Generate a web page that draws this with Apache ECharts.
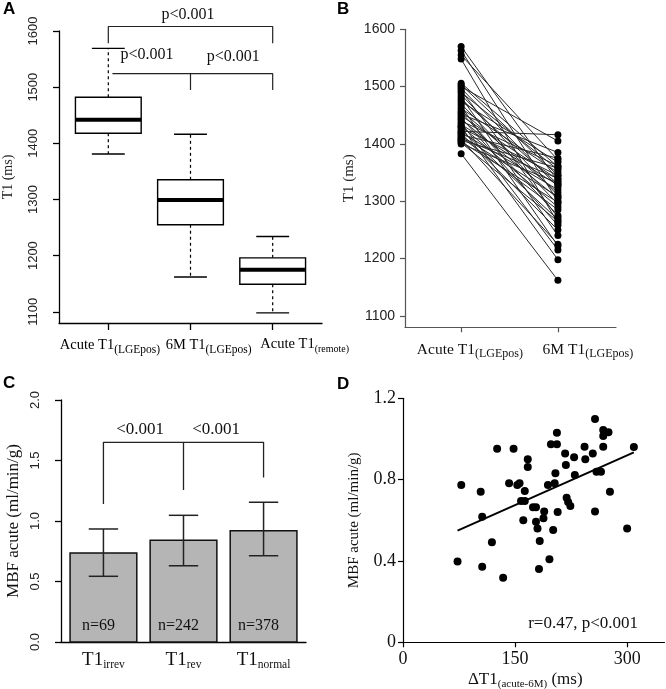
<!DOCTYPE html>
<html><head><meta charset="utf-8">
<script src="https://cdn.jsdelivr.net/npm/echarts@6/dist/echarts.min.js"></script>
<style>html,body{margin:0;padding:0;background:#fff}#c{width:666px;height:689px}</style>
</head><body><div id="c"></div>
<script>
// ---------- Panel A: box plots ----------
const boxLabels = [['Acute T1', '(LGEpos)'], ['6M T1', '(LGEpos)'], ['Acute T1', '(remote)']];
const boxPositions = [1, 2, 3];
const boxLow = [1381, 1162, 1098];
const boxQ1 = [1418, 1255, 1149];
const boxMedian = [1442, 1299, 1175];
const boxQ3 = [1482, 1335, 1196];
const boxHigh = [1569, 1416, 1234];
const t1Ticks = [1100, 1200, 1300, 1400, 1500, 1600];
const pText = 'p<0.001';

// ---------- Panel B: paired values ----------
const pairedLabels = [['Acute T1', '(LGEpos)'], ['6M T1', '(LGEpos)']];
const pairedAcute = [1570, 1563, 1555, 1548, 1506, 1503, 1500, 1497, 1493, 1490, 1486, 1482, 1478, 1474, 1470, 1466, 1462, 1458, 1455, 1452, 1449, 1446, 1443, 1440, 1437, 1434, 1431, 1428, 1425, 1422, 1420, 1418, 1416, 1414, 1412, 1410, 1408, 1406, 1404, 1402, 1400, 1430, 1383];
const pairedSixMonth = [1335, 1300, 1372, 1262, 1360, 1345, 1405, 1325, 1272, 1355, 1310, 1240, 1330, 1368, 1295, 1222, 1350, 1315, 1275, 1385, 1338, 1258, 1305, 1362, 1215, 1328, 1290, 1345, 1268, 1416, 1320, 1250, 1375, 1308, 1285, 1340, 1225, 1358, 1298, 1265, 1332, 1198, 1162];

// ---------- Panel C: bars ----------
const barLabels = [['T1', 'irrev'], ['T1', 'rev'], ['T1', 'normal']];
const barPositions = [0.7, 1.9, 3.1];
const barMeans = [0.735, 0.840, 0.920];
const barLower = [0.543, 0.630, 0.713];
const barUpper = [0.934, 1.047, 1.155];
const barCounts = ['n=69', 'n=242', 'n=378'];
const mbfBarTicks = [0, 0.5, 1.0, 1.5, 2.0];
const barPText = '<0.001';

// ---------- Panel D: scatter ----------
const deltaT1 = [73, 78, 104, 106, 106, 119, 126, 134, 142, 148, 153, 156, 163, 158, 163, 161, 167, 167, 174, 178, 178, 180, 183, 182, 189, 188, 196, 194, 198, 201, 203, 204, 206, 206, 207, 217, 218, 219, 221, 224, 229, 230, 243, 244, 254, 257, 257, 259, 265, 268, 268, 268, 275, 277, 300, 309];
const mbfAcute = [0.397, 0.774, 0.741, 0.618, 0.372, 0.492, 0.952, 0.318, 0.782, 0.952, 0.774, 0.782, 0.744, 0.695, 0.695, 0.600, 0.900, 0.862, 0.664, 0.664, 0.593, 0.560, 0.498, 0.361, 0.643, 0.610, 0.408, 0.774, 0.974, 0.552, 0.782, 0.831, 1.031, 0.974, 0.641, 0.929, 0.872, 0.711, 0.690, 0.670, 0.910, 0.823, 0.962, 0.900, 0.929, 1.098, 0.643, 0.839, 0.839, 0.962, 1.044, 1.015, 1.033, 0.741, 0.560, 0.960];
const fitX = [73, 309];
const fitY = [0.549, 0.934];
const deltaTicks = [0, 150, 300];
const mbfTicks = [0, 0.4, 0.8, 1.2];
const corrText = 'r=0.47, p<0.001';

const SERIF = 'Liberation Serif';
const SANS = 'Liberation Sans';
const INK = '#111';

function richSub(main, sub, drop, small) {
  return {
    m: { fontFamily: SERIF, fontSize: main, color: INK },
    s: { fontFamily: SERIF, fontSize: sub, color: INK, padding: [drop, 0, 0, 0] },
    t: { fontFamily: SERIF, fontSize: small || sub, color: INK, padding: [drop, 0, 0, 0] }
  };
}
function labelAt(positions, labels) {
  return function (v) {
    const i = positions.findIndex(p => Math.abs(p - v) < 1e-6);
    if (i < 0) return '';
    return '{m|' + labels[i][0] + '}{s|' + labels[i][1] + '}';
  };
}
const plain = v => String(v);

const chart = echarts.init(document.getElementById('c'), null, { renderer: 'canvas' });

const aLabelPos = [1.02, 2.22, 3.39];
const aSubKey = ['s', 's', 't'];
const bLabelPos = [1.09, 2.31];

function textSeries(grid, rows, font) {
  return {
    type: 'custom', xAxisIndex: grid, yAxisIndex: grid, clip: false, silent: true,
    data: rows,
    renderItem: function (params, api) {
      const p = api.coord([api.value(0), api.value(1)]);
      return { type: 'text', x: p[0], y: p[1],
        style: { text: rows[params.dataIndex][2], fill: INK, font: font, align: 'center', verticalAlign: 'middle' } };
    }
  };
}

const option = {
  animation: false,
  backgroundColor: '#fff',
  grid: [
    { left: 59, top: 31, width: 263, height: 292, outerBoundsMode: 'none' },
    { left: 405, top: 29.3, width: 211, height: 298, outerBoundsMode: 'none' },
    { left: 61, top: 400, width: 245, height: 242, outerBoundsMode: 'none' },
    { left: 403, top: 398.3, width: 261.5, height: 244, outerBoundsMode: 'none' }
  ],
  xAxis: [
    { gridIndex: 0, type: 'value', min: 0.4, max: 3.6,
      axisLine: { show: true, lineStyle: { color: '#000', width: 1.3 } },
      axisTick: { show: true, length: 7, customValues: boxPositions, lineStyle: { color: '#000', width: 1.3 } },
      axisLabel: { show: false },
      splitLine: { show: false } },
    { gridIndex: 1, type: 'value', min: 0.42, max: 2.6,
      axisLine: { show: true, lineStyle: { color: '#555', width: 1.2 } },
      axisTick: { show: true, length: 5, customValues: [1, 2], lineStyle: { color: '#555', width: 1.2 } },
      axisLabel: { customValues: bLabelPos, formatter: labelAt(bLabelPos, pairedLabels), rich: richSub(15.5, 12, 9), margin: 12, hideOverlap: false },
      splitLine: { show: false } },
    { gridIndex: 2, type: 'value', min: 0.064, max: 3.736,
      axisLine: { show: true, lineStyle: { color: '#000', width: 1.3 } },
      axisTick: { show: false },
      axisLabel: { customValues: barPositions, formatter: labelAt(barPositions, barLabels), rich: richSub(19, 11.5, 10), margin: 7, hideOverlap: false },
      splitLine: { show: false } },
    { gridIndex: 3, type: 'value', min: 0, max: 350,
      axisLine: { show: true, lineStyle: { color: '#000', width: 1.2 } },
      axisTick: { show: true, length: 5, customValues: deltaTicks, lineStyle: { color: '#000', width: 1.2 } },
      axisLabel: { customValues: deltaTicks, fontFamily: SERIF, fontSize: 18, color: INK, margin: 8, formatter: plain },
      splitLine: { show: false },
      name: '{m|ΔT1}{s|(acute-6M)}{m| (ms)}', nameLocation: 'middle', nameGap: 27,
      nameTextStyle: { rich: richSub(17, 11, 9), padding: [0, 17, 0, 0] } }
  ],
  yAxis: [
    { gridIndex: 0, type: 'value', min: 1080, max: 1600,
      axisLine: { show: true, lineStyle: { color: '#000', width: 1.3 } },
      axisTick: { show: true, length: 6, customValues: t1Ticks, lineStyle: { color: '#000', width: 1.3 } },
      axisLabel: { customValues: t1Ticks, rotate: 90, fontFamily: SANS, fontSize: 13, color: '#222', margin: 19, formatter: plain },
      splitLine: { show: false },
      name: 'T1 (ms)', nameLocation: 'middle', nameGap: 44,
      nameTextStyle: { fontFamily: SERIF, fontSize: 14, color: '#222' } },
    { gridIndex: 1, type: 'value', min: 1080, max: 1600,
      axisLine: { show: true, lineStyle: { color: '#555', width: 1.2 } },
      axisTick: { show: true, length: 5, customValues: t1Ticks, lineStyle: { color: '#555', width: 1.2 } },
      axisLabel: { customValues: t1Ticks, fontFamily: SANS, fontSize: 14, color: '#222', margin: 10, formatter: plain },
      splitLine: { show: false },
      name: 'T1 (ms)', nameLocation: 'middle', nameGap: 48,
      nameTextStyle: { fontFamily: SERIF, fontSize: 15, color: '#222' } },
    { gridIndex: 2, type: 'value', min: 0, max: 2,
      axisLine: { show: true, lineStyle: { color: '#000', width: 1.3 } },
      axisTick: { show: true, length: 6, customValues: mbfBarTicks, lineStyle: { color: '#000', width: 1.3 } },
      axisLabel: { customValues: mbfBarTicks, rotate: 90, fontFamily: SANS, fontSize: 13, color: '#222', margin: 19,
        formatter: v => v.toFixed(1) },
      splitLine: { show: false },
      name: 'MBF acute (ml/min/g)', nameLocation: 'middle', nameGap: 39,
      nameTextStyle: { fontFamily: SERIF, fontSize: 17, color: INK } },
    { gridIndex: 3, type: 'value', min: 0, max: 1.2,
      axisLine: { show: true, lineStyle: { color: '#000', width: 1.2 } },
      axisTick: { show: true, length: 5, customValues: mbfTicks, lineStyle: { color: '#000', width: 1.2 } },
      axisLabel: { customValues: mbfTicks, fontFamily: SERIF, fontSize: 18, color: INK, margin: 7,
        formatter: v => (v === 0 ? '0' : v.toFixed(1)) },
      splitLine: { show: false },
      name: 'MBF acute (ml/min/g)', nameLocation: 'middle', nameGap: 41,
      nameTextStyle: { fontFamily: SERIF, fontSize: 15, color: INK } }
  ],
  series: [
    // A: boxes
    {
      type: 'custom', xAxisIndex: 0, yAxisIndex: 0, silent: true,
      data: boxPositions.map((x, i) => [x, boxLow[i], boxQ1[i], boxMedian[i], boxQ3[i], boxHigh[i]]),
      renderItem: function (params, api) {
        const x = api.value(0);
        const c = v => api.coord([x, v]);
        const hw = api.size([0.4, 0])[0];
        const cw = api.size([0.2, 0])[0];
        const lo = c(api.value(1)), q1 = c(api.value(2)), md = c(api.value(3)), q3 = c(api.value(4)), hi = c(api.value(5));
        const cx = lo[0];
        const solid = { stroke: '#000', lineWidth: 1.4, fill: null };
        const dashed = { stroke: '#000', lineWidth: 1.2, lineDash: [3, 3], fill: null };
        return { type: 'group', children: [
          { type: 'line', shape: { x1: cx, y1: q3[1], x2: cx, y2: hi[1] }, style: dashed },
          { type: 'line', shape: { x1: cx, y1: q1[1], x2: cx, y2: lo[1] }, style: dashed },
          { type: 'line', shape: { x1: cx - cw, y1: hi[1], x2: cx + cw, y2: hi[1] }, style: solid },
          { type: 'line', shape: { x1: cx - cw, y1: lo[1], x2: cx + cw, y2: lo[1] }, style: solid },
          { type: 'rect', shape: { x: cx - hw, y: q3[1], width: 2 * hw, height: q1[1] - q3[1] }, style: { stroke: '#000', lineWidth: 1.4, fill: '#fff' } },
          { type: 'line', shape: { x1: cx - hw, y1: md[1], x2: cx + hw, y2: md[1] }, style: { stroke: '#000', lineWidth: 4 } }
        ] };
      }
    },
    // A: category labels (rich text with subscripts), placed under the axis
    {
      type: 'custom', xAxisIndex: 0, yAxisIndex: 0, clip: false, silent: true,
      data: aLabelPos.map(p => [p, 1080]),
      renderItem: function (params, api) {
        const p = api.coord([api.value(0), api.value(1)]);
        const i = params.dataIndex;
        const lab = boxLabels[i];
        return { type: 'text', x: p[0], y: p[1] + 12,
          style: { text: '{m|' + lab[0] + '}{' + aSubKey[i] + '|' + lab[1] + '}', rich: richSub(14.5, 11.5, 9, 10), align: 'center', verticalAlign: 'top' } };
      }
    },
    // A: significance brackets
    { type: 'line', xAxisIndex: 0, yAxisIndex: 0, clip: false, silent: true, symbol: 'none',
      lineStyle: { color: '#222', width: 1.2 }, data: [[1, 1578], [1, 1608], [3, 1608], [3, 1578]] },
    { type: 'line', xAxisIndex: 0, yAxisIndex: 0, clip: false, silent: true, symbol: 'none',
      lineStyle: { color: '#222', width: 1.2 }, data: [[1.05, 1524], [3, 1524], [3, 1495]] },
    { type: 'line', xAxisIndex: 0, yAxisIndex: 0, clip: false, silent: true, symbol: 'none',
      lineStyle: { color: '#222', width: 1.2 }, data: [[2, 1524], [2, 1495]] },
    textSeries(0, [[1.97, 1628, pText], [1.47, 1557, pText], [2.52, 1554, pText]], '16px "Liberation Serif"'),

    // B: paired lines
    {
      type: 'custom', xAxisIndex: 1, yAxisIndex: 1, silent: true,
      data: pairedAcute.map((a, i) => [a, pairedSixMonth[i]]),
      renderItem: function (params, api) {
        const p1 = api.coord([1, api.value(0)]);
        const p2 = api.coord([2, api.value(1)]);
        return { type: 'line', shape: { x1: p1[0], y1: p1[1], x2: p2[0], y2: p2[1] },
          style: { stroke: '#2a2a2a', lineWidth: 1 } };
      }
    },
    { type: 'scatter', xAxisIndex: 1, yAxisIndex: 1, silent: true, symbol: 'circle', symbolSize: 7,
      itemStyle: { color: '#000', opacity: 1 }, data: pairedAcute.map(v => [1, v]) },
    { type: 'scatter', xAxisIndex: 1, yAxisIndex: 1, silent: true, symbol: 'circle', symbolSize: 7,
      itemStyle: { color: '#000', opacity: 1 }, data: pairedSixMonth.map(v => [2, v]) },

    // C: bars with error bars
    {
      type: 'custom', xAxisIndex: 2, yAxisIndex: 2, silent: true,
      data: barPositions.map((x, i) => [x, barMeans[i], barLower[i], barUpper[i]]),
      renderItem: function (params, api) {
        const x = api.value(0);
        const tl = api.coord([x - 0.5, api.value(1)]);
        const br = api.coord([x + 0.5, 0]);
        const lo = api.coord([x, api.value(2)]);
        const hi = api.coord([x, api.value(3)]);
        const cw = api.size([0.22, 0])[0];
        const st = { stroke: '#222', lineWidth: 1.5 };
        return { type: 'group', children: [
          { type: 'rect', shape: { x: tl[0], y: tl[1], width: br[0] - tl[0], height: br[1] - tl[1] },
            style: { fill: '#b5b5b5', stroke: '#111', lineWidth: 1.5 } },
          { type: 'line', shape: { x1: lo[0], y1: lo[1], x2: hi[0], y2: hi[1] }, style: st },
          { type: 'line', shape: { x1: lo[0] - cw, y1: lo[1], x2: lo[0] + cw, y2: lo[1] }, style: st },
          { type: 'line', shape: { x1: hi[0] - cw, y1: hi[1], x2: hi[0] + cw, y2: hi[1] }, style: st },
          { type: 'text', x: lo[0] - 5, y: br[1] - 16,
            style: { text: barCounts[params.dataIndex], font: '16px "Liberation Serif"', fill: INK, align: 'center', verticalAlign: 'middle' } }
        ] };
      }
    },
    { type: 'line', xAxisIndex: 2, yAxisIndex: 2, clip: false, silent: true, symbol: 'none',
      lineStyle: { color: '#222', width: 1.3 }, data: [[0.7, 1.14], [0.7, 1.65], [3.1, 1.65], [3.1, 1.36]] },
    { type: 'line', xAxisIndex: 2, yAxisIndex: 2, clip: false, silent: true, symbol: 'none',
      lineStyle: { color: '#222', width: 1.3 }, data: [[1.9, 1.65], [1.9, 1.256]] },
    textSeries(2, [[1.25, 1.76, barPText], [2.39, 1.76, barPText]], '17px "Liberation Serif"'),

    // D: scatter + fit
    { type: 'scatter', xAxisIndex: 3, yAxisIndex: 3, silent: true, symbol: 'circle', symbolSize: 8,
      itemStyle: { color: '#000', opacity: 1 }, data: deltaT1.map((x, i) => [x, mbfAcute[i]]) },
    { type: 'line', xAxisIndex: 3, yAxisIndex: 3, silent: true, symbol: 'none',
      lineStyle: { color: '#000', width: 2 }, data: fitX.map((x, i) => [x, fitY[i]]) },
    textSeries(3, [[241, 0.0915, corrText]], '17px "Liberation Serif"')
  ],
  graphic: [
    { type: 'text', left: 3, top: 1, style: { text: 'A', font: 'bold 17px "Liberation Sans"', fill: '#000' } },
    { type: 'text', left: 337, top: 1, style: { text: 'B', font: 'bold 17px "Liberation Sans"', fill: '#000' } },
    { type: 'text', left: 3, top: 375, style: { text: 'C', font: 'bold 17px "Liberation Sans"', fill: '#000' } },
    { type: 'text', left: 337, top: 376, style: { text: 'D', font: 'bold 17px "Liberation Sans"', fill: '#000' } }
  ]
};
chart.setOption(option);
</script></body></html>
